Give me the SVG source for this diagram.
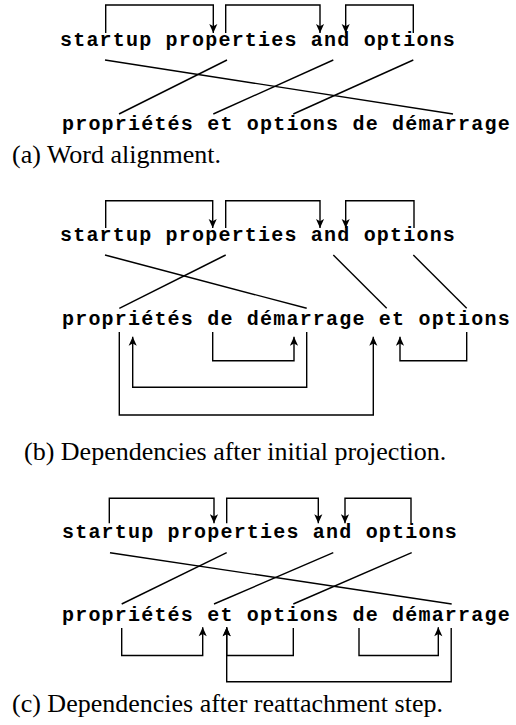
<svg xmlns="http://www.w3.org/2000/svg" width="516" height="725" viewBox="0 0 516 725">
  <style>
    .w { font-family: "Liberation Mono", "Courier New", monospace; font-weight: bold; font-size: 20px; letter-spacing: 1.2px; fill: #000; }
    .cap { font-family: "Liberation Serif", "Times New Roman", serif; font-size: 26px; fill: #000; }
    .ln { fill: none; stroke: #000; stroke-width: 1.4; }
    .dep { fill: none; stroke: #000; stroke-width: 1.4; marker-end: url(#ah); }
  </style>
  <defs>
    <marker id="ah" viewBox="0 0 10 10" refX="10" refY="5" markerWidth="10" markerHeight="9" orient="auto" markerUnits="userSpaceOnUse">
      <path d="M0,0.5 L10,5 L0,9.5 L2.5,5 Z" fill="#000"/>
    </marker>
  </defs>

  <!-- (a) word alignment -->
  <g id="a-source"><text class="w" x="60" y="46">startup properties and options</text></g>
  <g id="a-target"><text class="w" x="62" y="130">propriétés et options de démarrage</text></g>
  <g id="a-connectors">
    <path class="dep" d="M105.7,33 V5 H213.3 V33"/>
    <path class="dep" d="M225.7,33 V5 H320 V33"/>
    <path class="dep" d="M413.3,33 V5 H345.7 V33"/>
    <path class="ln" d="M105,60 L453,114"/>
    <path class="ln" d="M227,60 L119,114"/>
    <path class="ln" d="M333.3,60 L213.3,114"/>
    <path class="ln" d="M413.3,60 L293.3,114"/>
  </g>
  <g id="a-caption"><text class="cap" x="12" y="163">(a) Word alignment.</text></g>

  <!-- (b) dependencies after initial projection -->
  <g id="b-source"><text class="w" x="60" y="241">startup properties and options</text></g>
  <g id="b-target"><text class="w" x="62" y="325">propriétés de démarrage et options</text></g>
  <g id="b-connectors">
    <path class="dep" d="M105.7,228 V200.7 H212.7 V228"/>
    <path class="dep" d="M225.7,228 V200.7 H320 V228"/>
    <path class="dep" d="M414,228 V200.7 H345.7 V228"/>
    <path class="ln" d="M105,255 L306.7,308.3"/>
    <path class="ln" d="M225.7,255 L119.3,308.3"/>
    <path class="ln" d="M333.3,255 L386.7,308.3"/>
    <path class="ln" d="M413.3,255 L466.7,308.3"/>
    <path class="dep" d="M306.7,332 V387.3 H132.7 V336.7"/>
    <path class="dep" d="M212.7,332 V360.7 H294 V336.7"/>
    <path class="dep" d="M119.3,332 V415 H373.3 V336.7"/>
    <path class="dep" d="M466.7,332 V360.7 H400 V336.7"/>
  </g>
  <g id="b-caption"><text class="cap" x="24" y="460">(b) Dependencies after initial projection.</text></g>

  <!-- (c) dependencies after reattachment step -->
  <g id="c-source"><text class="w" x="62" y="538">startup properties and options</text></g>
  <g id="c-target"><text class="w" x="62" y="621">propriétés et options de démarrage</text></g>
  <g id="c-connectors">
    <path class="dep" d="M109.3,523.3 V498.3 H214 V523.3"/>
    <path class="dep" d="M226.7,523.3 V498.3 H318.3 V523.3"/>
    <path class="dep" d="M411,523.3 V498.3 H345 V523.3"/>
    <path class="ln" d="M110,552.7 L451.7,604"/>
    <path class="ln" d="M226.7,552.7 L121.7,604"/>
    <path class="ln" d="M333.3,552.7 L214,604"/>
    <path class="ln" d="M411.7,552.7 L293.3,604"/>
    <path class="dep" d="M121.7,628 V655.5 H202.7 V627.3"/>
    <path class="dep" d="M293.3,628 V655.5 H226.7 V627.3"/>
    <path class="dep" d="M451.2,628 V681.7 H226.7 V627.3"/>
    <path class="dep" d="M359,628 V655.5 H438.3 V627.3"/>
  </g>
  <g id="c-caption"><text class="cap" x="12" y="712">(c) Dependencies after reattachment step.</text></g>
</svg>
